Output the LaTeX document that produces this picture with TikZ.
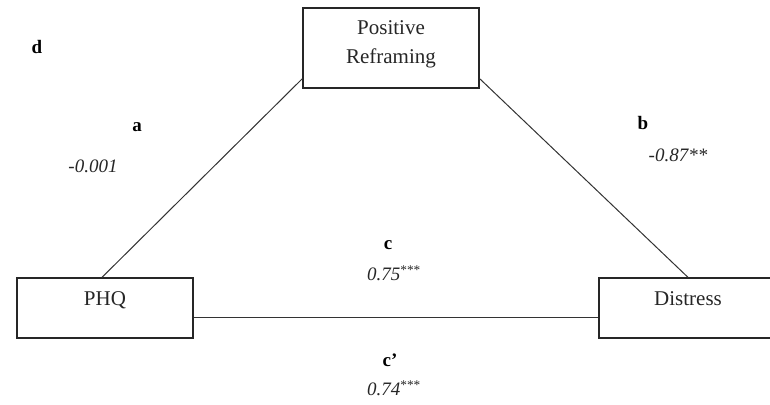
\documentclass[tikz,border=0pt]{standalone}
\usepackage{fontspec}
\setmainfont{Liberation Serif}
\begin{document}
\begin{tikzpicture}[x=1pt,y=-1pt,
  box/.style={draw=black!85, line width=1.3pt, inner sep=0pt, font=\fontsize{21}{30}\selectfont, text=black!85},
  lowbox/.style={box, minimum height=60pt, text height=15pt, text depth=21pt},
  conn/.style={draw=black!80, line width=1pt},
  boxtext/.style={inner sep=0pt, align=center, font=\fontsize{21}{30}\selectfont, text=black!85},
  lbl/.style={inner sep=0pt, font=\fontsize{19}{22}\selectfont\bfseries},
  val/.style={inner sep=0pt, font=\fontsize{19}{22}\selectfont\itshape, text=black!85}]
\useasboundingbox (0,0) rectangle (770,404);
\node[box, minimum width=176pt, minimum height=80pt] (pr) at (391,48) {};
\node[boxtext] (prt) at (391,44) {Positive\\[-1pt]Reframing};
\node[lowbox, minimum width=176pt] (phq) at (105,308) {PHQ};
\node[lowbox, minimum width=200pt] (dis) at (699,308) {\hspace*{-22pt}Distress};
\draw[conn] ([xshift=-3pt]phq.north) -- ([yshift=10pt]pr.south west);
\draw[conn] ([yshift=10pt]pr.south east) -- ([xshift=-11pt]dis.north);
\draw[conn] ([yshift=-9pt]phq.east) -- ([yshift=-9pt]dis.west);
\node[lbl] (d) at (37,47) {d};
\node[lbl] (a) at (137,127) {a};
\node[val] (va) at (93,166) {-0.001};
\node[lbl] (b) at (643,123) {b};
\node[val] (vb) at (678,155) {-0.87**};
\node[lbl] (c) at (388,245) {c};
\node[val] (vc) at (394,273) {0.75\textsuperscript{\upshape ***}};
\node[lbl] (cp) at (390,360) {c’};
\node[val] (vcp) at (394,388) {0.74\textsuperscript{\upshape ***}};
\end{tikzpicture}
\end{document}
